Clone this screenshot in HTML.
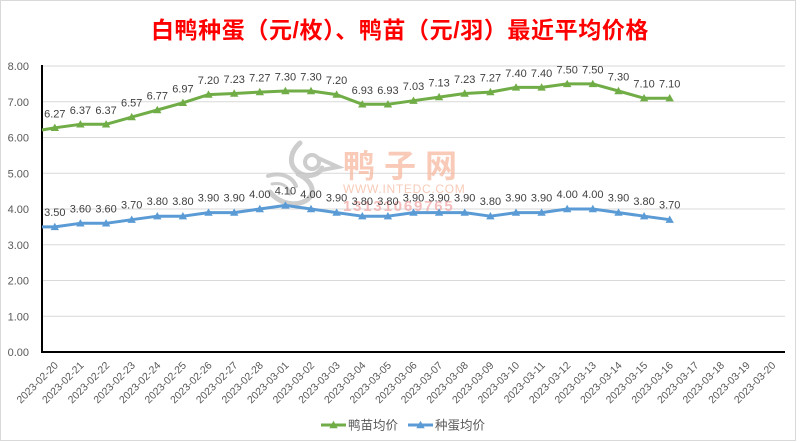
<!DOCTYPE html>
<html><head><meta charset="utf-8"><style>
html,body{margin:0;padding:0;background:#fff;}
svg{display:block;}
text{font-family:"Liberation Sans","Noto Sans CJK SC",sans-serif;}
</style></head><body>
<svg width="800" height="443" viewBox="0 0 800 443" xmlns="http://www.w3.org/2000/svg">
<defs>
<path id="tg" d="M-4.2,3.2 L4.2,3.2 L0,-4.2 Z" fill="#70ad47"/>
<path id="tb" d="M-4.2,3.2 L4.2,3.2 L0,-4.2 Z" fill="#5b9bd5"/>
</defs>
<rect x="0" y="0" width="800" height="443" fill="#fff"/>
<rect x="0.5" y="0.5" width="795" height="440" fill="none" stroke="#d9d9d9" stroke-width="1"/>

<text x="400" y="38" text-anchor="middle" font-size="23" font-weight="bold" fill="#ff0000" letter-spacing="0.6">白鸭种蛋（元/枚）、鸭苗（元/羽）最近平均价格</text>

<!-- gridlines -->
<g stroke="#d9d9d9" stroke-width="1">
<line x1="42" y1="66" x2="785" y2="66"/>
<line x1="42" y1="101.75" x2="785" y2="101.75"/>
<line x1="42" y1="137.5" x2="785" y2="137.5"/>
<line x1="42" y1="173.25" x2="785" y2="173.25"/>
<line x1="42" y1="209" x2="785" y2="209"/>
<line x1="42" y1="244.75" x2="785" y2="244.75"/>
<line x1="42" y1="280.5" x2="785" y2="280.5"/>
<line x1="42" y1="316.25" x2="785" y2="316.25"/>
</g>

<!-- watermark -->
<g opacity="0.75">
<g fill="none" stroke="#bdbdbd" stroke-linecap="round">
<path d="M300,143 C290,152 288,165 298,172 C306,178 318,176 322,168" stroke-width="5"/>
<circle cx="312" cy="162" r="7" stroke-width="4"/>
<path d="M318,158 L338,167 L322,170" stroke-width="4"/>
<path d="M298,174 C315,182 318,198 300,203 C288,206 276,200 270,192" stroke-width="5"/>
<path d="M268,176 C280,172 292,176 296,186" stroke-width="4"/>
<path d="M272,184 C282,182 288,186 290,194" stroke-width="3"/>
</g>
<text x="343" y="177" font-size="32" font-weight="bold" fill="#f6b9a0" letter-spacing="9">鸭子网</text>
<text x="343" y="193" font-size="12" fill="#f6b9a0" letter-spacing="0.7">WWW.INTEDC.COM</text>
<text x="343" y="211" font-size="15" font-weight="bold" fill="#f3a8a8" letter-spacing="1.8">13131069765</text>
</g>

<!-- axes -->
<line x1="42" y1="65" x2="42" y2="353" stroke="#000" stroke-width="2"/>
<line x1="41" y1="352" x2="785" y2="352" stroke="#000" stroke-width="2"/>

<!-- y labels -->
<g font-size="11" fill="#595959" text-anchor="end">
<text x="29" y="70">8.00</text>
<text x="29" y="105.75">7.00</text>
<text x="29" y="141.5">6.00</text>
<text x="29" y="177.25">5.00</text>
<text x="29" y="213">4.00</text>
<text x="29" y="248.75">3.00</text>
<text x="29" y="284.5">2.00</text>
<text x="29" y="320.25">1.00</text>
<text x="29" y="356">0.00</text>
</g>

<!-- series lines -->
<polyline fill="none" stroke="#70ad47" stroke-width="3" stroke-linejoin="round" points="42,130 54.8,127.8 80.4,124.3 106.1,124.3 131.7,117.1 157.3,110.0 182.9,102.8 208.5,94.6 234.2,93.5 259.8,92.1 285.4,91.0 311.0,91.0 336.6,94.6 362.3,104.3 387.9,104.3 413.5,100.7 439.1,97.1 464.7,93.5 490.4,92.1 516.0,87.4 541.6,87.4 567.2,83.9 592.8,83.9 618.5,91.0 644.1,98.2 669.7,98.2"/>
<polyline fill="none" stroke="#5b9bd5" stroke-width="3" stroke-linejoin="round" points="42,226.9 54.8,226.9 80.4,223.3 106.1,223.3 131.7,219.7 157.3,216.2 182.9,216.2 208.5,212.6 234.2,212.6 259.8,209.0 285.4,205.4 311.0,209.0 336.6,212.6 362.3,216.2 387.9,216.2 413.5,212.6 439.1,212.6 464.7,212.6 490.4,216.2 516.0,212.6 541.6,212.6 567.2,209.0 592.8,209.0 618.5,212.6 644.1,216.2 669.7,219.7"/>

<!-- markers -->
<g>
<use href="#tg" x="54.8" y="127.8"/><use href="#tg" x="80.4" y="124.3"/><use href="#tg" x="106.1" y="124.3"/><use href="#tg" x="131.7" y="117.1"/><use href="#tg" x="157.3" y="110.0"/><use href="#tg" x="182.9" y="102.8"/><use href="#tg" x="208.5" y="94.6"/><use href="#tg" x="234.2" y="93.5"/><use href="#tg" x="259.8" y="92.1"/><use href="#tg" x="285.4" y="91.0"/><use href="#tg" x="311.0" y="91.0"/><use href="#tg" x="336.6" y="94.6"/><use href="#tg" x="362.3" y="104.3"/><use href="#tg" x="387.9" y="104.3"/><use href="#tg" x="413.5" y="100.7"/><use href="#tg" x="439.1" y="97.1"/><use href="#tg" x="464.7" y="93.5"/><use href="#tg" x="490.4" y="92.1"/><use href="#tg" x="516.0" y="87.4"/><use href="#tg" x="541.6" y="87.4"/><use href="#tg" x="567.2" y="83.9"/><use href="#tg" x="592.8" y="83.9"/><use href="#tg" x="618.5" y="91.0"/><use href="#tg" x="644.1" y="98.2"/><use href="#tg" x="669.7" y="98.2"/>
<use href="#tb" x="54.8" y="226.9"/><use href="#tb" x="80.4" y="223.3"/><use href="#tb" x="106.1" y="223.3"/><use href="#tb" x="131.7" y="219.7"/><use href="#tb" x="157.3" y="216.2"/><use href="#tb" x="182.9" y="216.2"/><use href="#tb" x="208.5" y="212.6"/><use href="#tb" x="234.2" y="212.6"/><use href="#tb" x="259.8" y="209.0"/><use href="#tb" x="285.4" y="205.4"/><use href="#tb" x="311.0" y="209.0"/><use href="#tb" x="336.6" y="212.6"/><use href="#tb" x="362.3" y="216.2"/><use href="#tb" x="387.9" y="216.2"/><use href="#tb" x="413.5" y="212.6"/><use href="#tb" x="439.1" y="212.6"/><use href="#tb" x="464.7" y="212.6"/><use href="#tb" x="490.4" y="216.2"/><use href="#tb" x="516.0" y="212.6"/><use href="#tb" x="541.6" y="212.6"/><use href="#tb" x="567.2" y="209.0"/><use href="#tb" x="592.8" y="209.0"/><use href="#tb" x="618.5" y="212.6"/><use href="#tb" x="644.1" y="216.2"/><use href="#tb" x="669.7" y="219.7"/>
</g>

<!-- data labels green -->
<g font-size="11" fill="#404040" text-anchor="middle">
<text x="54.8" y="117.3">6.27</text><text x="80.4" y="113.8">6.37</text><text x="106.1" y="113.8">6.37</text><text x="131.7" y="106.6">6.57</text><text x="157.3" y="99.5">6.77</text><text x="182.9" y="92.3">6.97</text><text x="208.5" y="84.1">7.20</text><text x="234.2" y="83.0">7.23</text><text x="259.8" y="81.6">7.27</text><text x="285.4" y="80.5">7.30</text><text x="311.0" y="80.5">7.30</text><text x="336.6" y="84.1">7.20</text><text x="362.3" y="93.8">6.93</text><text x="387.9" y="93.8">6.93</text><text x="413.5" y="90.2">7.03</text><text x="439.1" y="86.6">7.13</text><text x="464.7" y="83.0">7.23</text><text x="490.4" y="81.6">7.27</text><text x="516.0" y="76.9">7.40</text><text x="541.6" y="76.9">7.40</text><text x="567.2" y="73.4">7.50</text><text x="592.8" y="73.4">7.50</text><text x="618.5" y="80.5">7.30</text><text x="644.1" y="87.7">7.10</text><text x="669.7" y="87.7">7.10</text>
</g>
<!-- data labels blue -->
<g font-size="11" fill="#404040" text-anchor="middle">
<text x="54.8" y="215.9">3.50</text><text x="80.4" y="212.3">3.60</text><text x="106.1" y="212.3">3.60</text><text x="131.7" y="208.7">3.70</text><text x="157.3" y="205.2">3.80</text><text x="182.9" y="205.2">3.80</text><text x="208.5" y="201.6">3.90</text><text x="234.2" y="201.6">3.90</text><text x="259.8" y="198.0">4.00</text><text x="285.4" y="194.4">4.10</text><text x="311.0" y="198.0">4.00</text><text x="336.6" y="201.6">3.90</text><text x="362.3" y="205.2">3.80</text><text x="387.9" y="205.2">3.80</text><text x="413.5" y="201.6">3.90</text><text x="439.1" y="201.6">3.90</text><text x="464.7" y="201.6">3.90</text><text x="490.4" y="205.2">3.80</text><text x="516.0" y="201.6">3.90</text><text x="541.6" y="201.6">3.90</text><text x="567.2" y="198.0">4.00</text><text x="592.8" y="198.0">4.00</text><text x="618.5" y="201.6">3.90</text><text x="644.1" y="205.2">3.80</text><text x="669.7" y="208.7">3.70</text>
</g>

<!-- x labels -->
<g font-size="10.5" fill="#595959" text-anchor="end">
<text transform="translate(58.8,366) rotate(-45)">2023-02-20</text>
<text transform="translate(84.4,366) rotate(-45)">2023-02-21</text>
<text transform="translate(110.1,366) rotate(-45)">2023-02-22</text>
<text transform="translate(135.7,366) rotate(-45)">2023-02-23</text>
<text transform="translate(161.3,366) rotate(-45)">2023-02-24</text>
<text transform="translate(186.9,366) rotate(-45)">2023-02-25</text>
<text transform="translate(212.5,366) rotate(-45)">2023-02-26</text>
<text transform="translate(238.2,366) rotate(-45)">2023-02-27</text>
<text transform="translate(263.8,366) rotate(-45)">2023-02-28</text>
<text transform="translate(289.4,366) rotate(-45)">2023-03-01</text>
<text transform="translate(315.0,366) rotate(-45)">2023-03-02</text>
<text transform="translate(340.6,366) rotate(-45)">2023-03-03</text>
<text transform="translate(366.3,366) rotate(-45)">2023-03-04</text>
<text transform="translate(391.9,366) rotate(-45)">2023-03-05</text>
<text transform="translate(417.5,366) rotate(-45)">2023-03-06</text>
<text transform="translate(443.1,366) rotate(-45)">2023-03-07</text>
<text transform="translate(468.7,366) rotate(-45)">2023-03-08</text>
<text transform="translate(494.4,366) rotate(-45)">2023-03-09</text>
<text transform="translate(520.0,366) rotate(-45)">2023-03-10</text>
<text transform="translate(545.6,366) rotate(-45)">2023-03-11</text>
<text transform="translate(571.2,366) rotate(-45)">2023-03-12</text>
<text transform="translate(596.8,366) rotate(-45)">2023-03-13</text>
<text transform="translate(622.5,366) rotate(-45)">2023-03-14</text>
<text transform="translate(648.1,366) rotate(-45)">2023-03-15</text>
<text transform="translate(673.7,366) rotate(-45)">2023-03-16</text>
<text transform="translate(699.3,366) rotate(-45)">2023-03-17</text>
<text transform="translate(724.9,366) rotate(-45)">2023-03-18</text>
<text transform="translate(750.6,366) rotate(-45)">2023-03-19</text>
<text transform="translate(776.2,366) rotate(-45)">2023-03-20</text>
</g>

<!-- legend -->
<line x1="321" y1="425" x2="346" y2="425" stroke="#70ad47" stroke-width="3"/>
<use href="#tg" x="333.5" y="425"/>
<text x="348" y="429.5" font-size="12.5" fill="#595959">鸭苗均价</text>
<line x1="408" y1="425" x2="433" y2="425" stroke="#5b9bd5" stroke-width="3"/>
<use href="#tb" x="420.5" y="425"/>
<text x="435" y="429.5" font-size="12.5" fill="#595959">种蛋均价</text>
</svg>
</body></html>
